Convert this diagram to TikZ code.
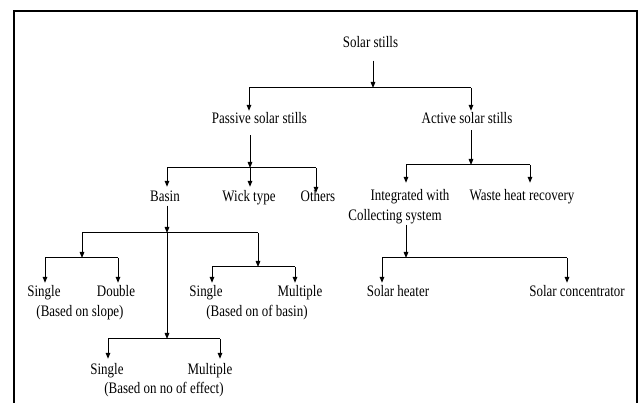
\documentclass[tikz,border=0pt]{standalone}
\usepackage{fontspec}
\setmainfont[FakeStretch=0.81]{Liberation Serif}
\usetikzlibrary{arrows.meta}
\begin{document}
\begin{tikzpicture}[x=1pt,y=-1pt,
  lbl/.style={anchor=base,inner sep=0pt,text height=11pt,text depth=3.5pt,
    font=\fontsize{16pt}{20pt}\selectfont},
  ln/.style={line width=1pt,black},
  arr/.style={ln,-{Triangle[length=6pt,width=4.6pt]}}]
\fill[white] (0,0) rectangle (640,403);
\useasboundingbox (0,0) rectangle (640,403);
\begin{scope}
\clip (0,0) rectangle (640,403);
\draw[line width=2pt] (14,420) -- (14,11) -- (636.5,11) -- (636.5,420);
\end{scope}
% nodes
\node[lbl] (ss) at (370.5,48) {Solar stills};
\node[lbl] (ps) at (259.5,124) {Passive solar stills};
\node[lbl] (as) at (467,124) {Active solar stills};
\node[lbl] (basin) at (165,202) {Basin};
\node[lbl] (wick) at (249,202) {Wick type};
\node[lbl] (others) at (318,202) {Others};
\node[lbl] (integ) at (410,201) {Integrated with};
\node[lbl] (coll) at (395,221) {Collecting system};
\node[lbl] (waste) at (522,201) {Waste heat recovery};
\node[lbl] (s1) at (44,297) {Single};
\node[lbl] (d1) at (116,297) {Double};
\node[lbl] (slope) at (80,317) {(Based on slope)};
\node[lbl] (s2) at (206,297) {Single};
\node[lbl] (m2) at (300,297) {Multiple};
\node[lbl] (nbasin) at (257,317) {(Based on of basin)};
\node[lbl] (heater) at (398,297) {Solar heater};
\node[lbl] (conc) at (577,297) {Solar concentrator};
\node[lbl] (s3) at (107,374) {Single};
\node[lbl] (m3) at (210,374) {Multiple};
\node[lbl] (effect) at (164,393) {(Based on no of effect)};
% junctions
\coordinate (t0) at (373,88); \coordinate (tL) at (249,88); \coordinate (tR) at (471,88);
\coordinate (p0) at (250,168); \coordinate (pL) at (167,168); \coordinate (pR) at (316,168);
\coordinate (a0) at (471,165); \coordinate (aL) at (406,165); \coordinate (aR) at (530,165);
\coordinate (b0) at (167,233); \coordinate (bL) at (82,233); \coordinate (bR) at (258,233);
\coordinate (g0) at (82,258); \coordinate (gL) at (45,258); \coordinate (gR) at (118,258);
\coordinate (c0) at (258,267); \coordinate (cL) at (212,267); \coordinate (cR) at (295,267);
\coordinate (e0) at (167,339); \coordinate (eL) at (108,339); \coordinate (eR) at (220,339);
\coordinate (k0) at (406,258); \coordinate (kL) at (382,258); \coordinate (kR) at (567,258);
% top level
\draw[arr,shorten <=9pt] (ss.south -| t0) -- (t0);
\draw[ln] (tL) -- (tR);
\draw[arr,shorten >=2pt] (tL) -- (tL |- ps.north);
\draw[arr,shorten >=2pt] (tR) -- (tR |- as.north);
% passive
\draw[arr,shorten <=7.5pt] (ps.south -| p0) -- (p0);
\draw[ln] (pL) -- (pR);
\draw[arr,shorten >=4pt] (pL) -- (pL |- basin.north);
\draw[arr,shorten >=4pt] (p0) -- (p0 |- wick.north);
\draw[arr,shorten >=-2pt] (pR) -- (pR |- others.north);
% active
\draw[arr,shorten <=2.5pt] (as.south -| a0) -- (a0);
\draw[ln] (aL) -- (aR);
\draw[arr,shorten >=7pt] (aL) -- (aL |- integ.north);
\draw[arr,shorten >=7pt] (aR) -- (aR |- waste.north);
% basin
\draw[arr] (basin.south -| b0) -- (b0);
\draw[ln] (bL) -- (bR);
\draw[arr] (bL) -- (g0);
\draw[ln] (gL) -- (gR);
\draw[arr,shorten >=3pt] (gL) -- (gL |- s1.north);
\draw[arr,shorten >=3pt] (gR) -- (gR |- d1.north);
\draw[arr] (bR) -- (c0);
\draw[ln] (cL) -- (cR);
\draw[arr,shorten >=3pt] (cL) -- (cL |- s2.north);
\draw[arr,shorten >=3pt] (cR) -- (cR |- m2.north);
\draw[arr] (b0) -- (e0);
\draw[ln] (eL) -- (eR);
\draw[arr,shorten >=4pt] (eL) -- (eL |- s3.north);
\draw[arr,shorten >=4pt] (eR) -- (eR |- m3.north);
% collecting
\draw[arr] (coll.south -| k0) -- (k0);
\draw[ln] (kL) -- (kR);
\draw[arr,shorten >=3pt] (kL) -- (kL |- heater.north);
\draw[arr,shorten >=3pt] (kR) -- (kR |- conc.north);
\end{tikzpicture}
\end{document}
